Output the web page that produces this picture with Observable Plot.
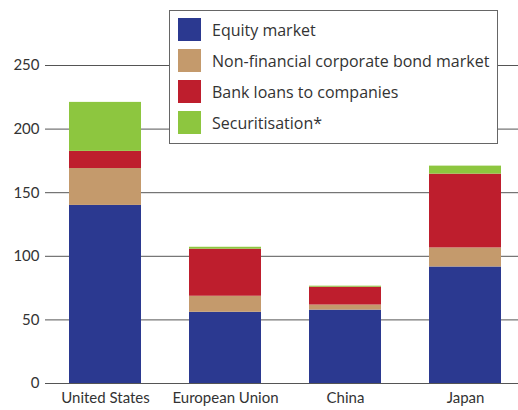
<!DOCTYPE html>
<html>
<head>
<meta charset="utf-8">
<script src="https://cdn.jsdelivr.net/npm/d3@7"></script>
<script src="https://cdn.jsdelivr.net/npm/@observablehq/plot@0.6"></script>
<style>
  html, body { margin: 0; padding: 0; background: #fff; }
  #wrap { position: relative; width: 518px; height: 410px; overflow: hidden; font-family: Lato, "Open Sans", sans-serif; }
  #legend { position: absolute; left: 169px; top: 10px; width: 329px; height: 134px; border: 1px solid #666; background: #fff; box-sizing: border-box; padding: 3px 0 0 8px; font-family: "Open Sans", sans-serif; }
  .item { display: flex; align-items: center; height: 31px; font-size: 16px; color: #333; }
  .sw { width: 23px; height: 23px; margin-right: 11px; flex: none; }
</style>
</head>
<body>
<div id="wrap"></div>
<script>
const regions = ["United States", "European Union", "China", "Japan"];
const seriesNames = ["Equity market", "Non-financial corporate bond market", "Bank loans to companies", "Securitisation*"];
const equity = [140, 56, 57.7, 91.6];
const bonds = [29, 12.6, 4, 15];
const bankLoans = [13.5, 37, 14, 58];
const securitisation = [38.5, 1.5, 0.8, 6.3];
const colors = ["#2b3990", "#c49a6c", "#be1e2d", "#8dc63f"];
const yTicks = [0, 50, 100, 150, 200, 250];

const seriesValues = [equity, bonds, bankLoans, securitisation];
const data = [];
seriesNames.forEach((s, si) => regions.forEach((r, ri) => data.push({region: r, series: s, value: seriesValues[si][ri]})));

const chart = Plot.plot({
  width: 518,
  height: 410,
  marginLeft: 45,
  marginRight: 0,
  marginTop: 65,
  marginBottom: 27,
  style: {fontFamily: "Lato, 'Open Sans', sans-serif", fontSize: "15px", color: "#333", background: "transparent"},
  x: {domain: regions, range: [45, 525], paddingInner: 0.4, paddingOuter: 0.2, label: null},
  y: {domain: [0, 250], label: null},
  color: {domain: seriesNames, range: colors},
  marks: [
    Plot.ruleY(yTicks, {stroke: "#555", strokeWidth: 1}),
    Plot.barY(data, {x: "region", y: "value", fill: "series", order: seriesNames}),
    Plot.axisY({ticks: yTicks, tickSize: 0, tickPadding: 6, label: null, fontSize: 15}),
    Plot.axisX({tickSize: 0, tickPadding: 9, label: null, fontSize: 15})
  ]
});

const wrap = document.getElementById("wrap");
wrap.appendChild(chart);
const legend = document.createElement("div");
legend.id = "legend";
seriesNames.forEach((s, i) => {
  const it = document.createElement("div");
  it.className = "item";
  const sw = document.createElement("span");
  sw.className = "sw";
  sw.style.background = colors[i];
  it.appendChild(sw);
  it.appendChild(document.createTextNode(s));
  legend.appendChild(it);
});
wrap.appendChild(legend);
</script>
</body>
</html>
